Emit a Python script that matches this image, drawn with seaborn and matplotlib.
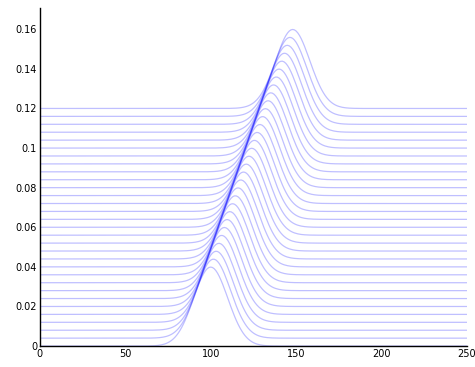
import numpy as np
import pandas as pd
import matplotlib
matplotlib.use("Agg")
import matplotlib.pyplot as plt
import seaborn as sns
from matplotlib.ticker import FuncFormatter

# %% valores

# deslocamento vertical de cada curva (0 ate 0.12, passo 0.004)
offsets = [0.000, 0.004, 0.008, 0.012, 0.016, 0.020, 0.024, 0.028, 0.032, 0.036,
           0.040, 0.044, 0.048, 0.052, 0.056, 0.060, 0.064, 0.068, 0.072, 0.076,
           0.080, 0.084, 0.088, 0.092, 0.096, 0.100, 0.104, 0.108, 0.112, 0.116,
           0.120]
# media de cada gaussiana
means = [100.0, 101.6, 103.2, 104.8, 106.4, 108.0, 109.6, 111.2, 112.8, 114.4,
         116.0, 117.6, 119.2, 120.8, 122.4, 124.0, 125.6, 127.2, 128.8, 130.4,
         132.0, 133.6, 135.2, 136.8, 138.4, 140.0, 141.6, 143.2, 144.8, 146.4,
         148.0]
sigma = 10.0

xticks = [0, 50, 100, 150, 200, 250]
yticks = [0, 0.02, 0.04, 0.06, 0.08, 0.1, 0.12, 0.14, 0.16]

# %% montar dataframe longo

x = np.arange(0, 251, 1.0)
rows = []
for i, (m, off) in enumerate(zip(means, offsets)):
    pdf = np.exp(-0.5 * ((x - m) / sigma) ** 2) / (np.sqrt(2 * np.pi) * sigma)
    rows.append(pd.DataFrame({'x': x, 'y': pdf + off, 'curva': i}))
df = pd.concat(rows, ignore_index=True)

# %% grafico

sns.set_style('white')
fig = plt.figure(figsize=(4.75, 3.67), dpi=100)
ax = fig.add_axes([0.084, 0.057, 0.899, 0.921])

sns.lineplot(data=df, x='x', y='y', units='curva', estimator=None,
             color=(0, 0, 1), alpha=0.25, lw=0.9, ax=ax, legend=False)

ax.set_xlim(0, 250)
ax.set_ylim(0, 0.1707)
ax.set_xticks(xticks)
ax.set_yticks(yticks)
ax.yaxis.set_major_formatter(FuncFormatter(lambda v, p: '%g' % v))
ax.tick_params(direction='in', length=3, width=0.8, labelsize=7, colors='black',
               pad=2)
ax.set_xlabel('')
ax.set_ylabel('')
sns.despine(ax=ax)
for s in ['left', 'bottom']:
    ax.spines[s].set_linewidth(1.0)
    ax.spines[s].set_color('black')

fig.savefig('out.png', dpi=100)
